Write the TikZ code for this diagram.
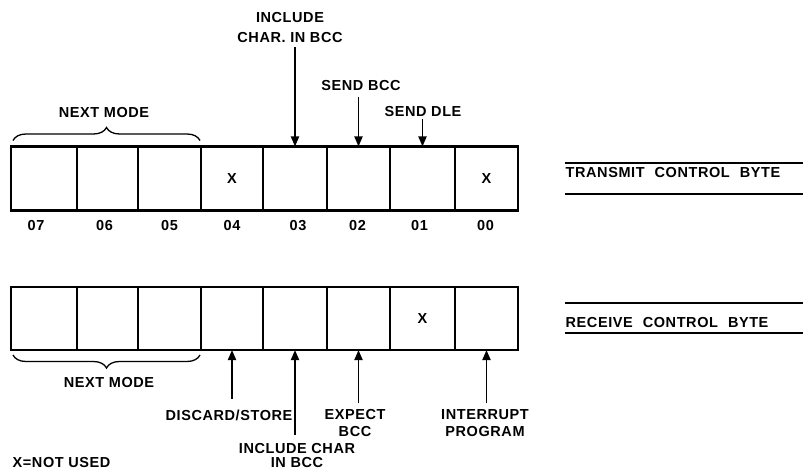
\documentclass[tikz,border=0pt]{standalone}
\usepackage{fontspec}
\setmainfont{Liberation Sans}[LetterSpace=4]
\usetikzlibrary{arrows.meta,decorations.pathreplacing,calc}
\begin{document}
\begin{tikzpicture}[x=1pt,y=-1pt,
  cell/.style={draw, line width=1.4pt, inner sep=0pt, outer sep=0pt},
  frame/.style={draw, line width=2.8pt},
  lbl/.style={font=\fontsize{14.5}{17}\selectfont\bfseries, inner sep=1.5pt, align=center},
  arr/.style={line width=1.8pt, -{Triangle[length=10pt,width=8pt]}},
  brc/.style={decorate, decoration={brace, amplitude=13pt}, line width=1.3pt},
  rule/.style={line width=1.5pt}]
\useasboundingbox (0,0) rectangle (803,473);

% cells
\foreach \a/\b/\n in {11/77/7,77/138/6,138/201/5,201/263/4,263/327/3,327/390/2,390/455/1,455/518/0}{
  \node[cell, minimum width={(\b-\a)*1pt}, minimum height=64pt] (t\n) at ({(\a+\b)/2},178.5) {};
  \node[cell, minimum width={(\b-\a)*1pt}, minimum height=63pt] (r\n) at ({(\a+\b)/2},318.5) {};
}
\draw[frame] (t7.north west) rectangle (t0.south east);
\draw[frame] (r7.north west) rectangle (r0.south east);

% X marks
\node[lbl] (x4) at (t4) {X};
\node[lbl] (x0) at (t0) {X};
\node[lbl] (x1) at (r1) {X};

% bit numbers
\foreach \n/\dx in {7/-8,6/-3,5/0,4/0,3/3,2/-1,1/-3,0/-1}{
  \node[lbl] (b\n) at ($(t\n.south)+(\dx,15)$) {0\n};
}

% transmit labels
\node[lbl] (inc) at (290,27.5) {INCLUDE\\[3pt]CHAR. IN BCC};
\draw[arr, shorten <=3pt] (t3 |- inc.south) -- (t3.north);
\node[lbl] (sbcc) at (361,86) {SEND BCC};
\draw[arr, shorten <=4pt] (t2 |- sbcc.south) -- (t2.north);
\node[lbl] (sdle) at (423,112) {SEND DLE};
\draw[arr] (t1 |- sdle.south) -- (t1.north);

\draw[brc] ($(t7.north west)+(2,-6)$) -- ($(t5.north east)+(-1,-6)$);
\node[lbl] (nm1) at (104,113) {NEXT MODE};

% receive labels
\draw[brc] ($(r5.south east)+(-1,5)$) -- ($(r7.south west)+(2,5)$);
\node[lbl] (nm2) at (109,383) {NEXT MODE};

\node[lbl] (disc) at (229,415) {DISCARD/STORE};
\draw[arr, shorten <=9pt] (r4 |- disc.north) -- (r4.south);
\node[lbl] (exp) at (355,423.5) {EXPECT\\BCC};
\draw[arr, shorten <=5pt] (r2 |- exp.north) -- (r2.south);
\node[lbl] (intr) at (485,423.5) {INTERRUPT\\PROGRAM};
\draw[arr, shorten <=5pt] (r0 |- intr.north) -- (r0.south);
\node[lbl, font=\fontsize{14.5}{14.5}\selectfont\bfseries, anchor=south, inner sep=1pt] (inc2) at (297,469) {INCLUDE CHAR\\IN BCC};
\draw[arr, shorten <=7pt] (r3 |- inc2.north) -- (r3.south);

\node[lbl, anchor=west] (xnu) at (11,463) {X=NOT USED};

% right side titles
\node[lbl, anchor=west] (tcb) at (564,173) {TRANSMIT\hspace{10pt}CONTROL\hspace{10pt}BYTE};
\draw[rule] (565,163) -- (803,163);
\draw[rule] (565,194) -- (803,194);
\node[lbl, anchor=west] (rcb) at (564,322.5) {RECEIVE\hspace{10pt}CONTROL\hspace{10pt}BYTE};
\draw[rule] (565,303) -- (803,303);
\draw[rule] (565,333) -- (803,333);
\end{tikzpicture}
\end{document}
